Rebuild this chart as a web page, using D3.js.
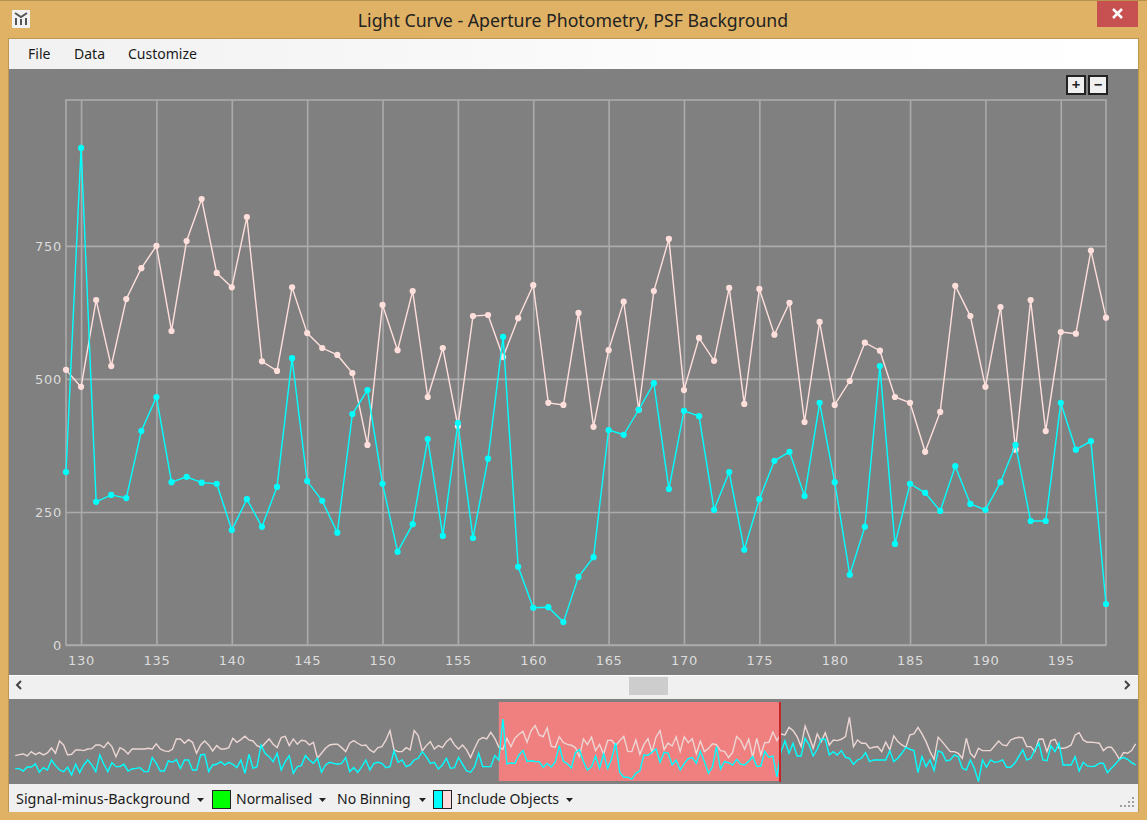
<!DOCTYPE html>
<html>
<head>
<meta charset="utf-8">
<script src="https://cdn.jsdelivr.net/npm/d3@7"></script>
<style>
  html, body { margin: 0; padding: 0; background: #dfb265; overflow: hidden; }
  text { font-family: "Noto Sans", "Open Sans", sans-serif; }
  .tick text { font-family: "DejaVu Sans", sans-serif; letter-spacing: 0.7px; }
</style>
</head>
<body>
<div id="chart"></div>
<script>
// Frames shown in the main plot
const firstFrame = 129;
const pinkMain = [517,485,648,524,650,708,750,590,759,838,699,672,804,533,515,672,586,558,545,511,376,639,554,665,466,558,411,618,620,541,614,676,455,451,624,410,554,645,442,665,763,479,577,534,671,453,669,583,643,419,607,451,496,568,553,466,455,363,438,675,618,485,635,367,648,402,588,585,741,615];
const cyanMain = [325,934,269,282,276,402,466,306,316,305,303,216,274,222,297,539,308,271,211,434,479,303,175,227,387,205,417,201,350,579,147,70,71,43,128,165,404,395,442,492,293,440,430,254,325,179,274,346,363,280,455,306,132,222,524,190,303,286,252,336,265,254,306,376,233,233,455,367,383,77];

// Overview frames before and after the selected window
const overviewStart = 9;
const pinkBefore = [391,406,416,386,451,406,436,401,431,505,426,609,550,401,411,476,476,466,490,495,550,550,510,589,525,376,510,476,416,490,490,490,490,500,490,565,490,461,451,485,639,639,
  575,629,589,426,550,609,550,461,540,490,490,510,649,589,629,679,624,609,540,510,575,639,560,510,659,679,540,639,560,619,609,550,589,352,426,500,550,560,560,510,451,
  575,614,575,540,550,476,441,510,525,624,763,476,451,451,510,476,763,689,461,540,599,490,540,510,599,649,550,490,550,476,362,500,624,659,639,738,649];
const cyanBefore = [198,198,163,223,223,268,144,213,178,327,243,178,154,218,104,263,139,253,327,253,154,401,263,154,287,228,228,263,163,193,203,213,154,154,362,277,163,163,312,292,332,203,
  327,327,178,178,401,411,154,253,263,302,253,292,263,213,327,129,411,203,228,550,426,376,302,426,178,302,391,129,228,243,391,327,277,352,144,253,292,277,263,277,362,
  154,213,144,228,327,178,277,292,277,213,228,461,292,327,228,253,327,352,451,376,277,292,193,253,352,203,213,367,263,163,144,228,426,228,228,228,391];
const pinkAfter = [713,699,812,763,674,525,832,674,500,713,599,733,550,624,614,634,674,961,525,624,575,575,500,515,525,451,590,476,684,599,550,515,699,713,812,713,599,451,337,664,599,525,451,451,426,
  352,649,426,362,500,466,466,466,535,609,550,540,624,649,664,659,525,525,451,634,639,451,614,634,500,500,515,550,699,733,624,590,590,585,575,466,515,515,436,337,436,426,466,565];
const cyanAfter = [451,609,426,575,386,386,649,550,386,486,634,634,401,451,401,466,367,352,263,327,352,436,302,327,327,327,327,466,302,352,426,515,486,466,139,377,228,327,169,461,436,312,327,401,377,
  203,178,327,203,5,327,218,327,292,302,327,218,218,278,377,476,327,352,476,575,327,317,535,451,575,253,253,253,377,164,292,238,228,238,278,278,139,203,268,337,367,337,287,253];

const xTicks = [130,135,140,145,150,155,160,165,170,175,180,185,190,195];
const yTicks = [0,250,500,750];
const menuItems = [["File", 28], ["Data", 74], ["Customize", 128]];

const width = 1147, height = 820;
const pink = "#ffdfdc", cyan = "#00ffff", gridColor = "#ababab";

const svg = d3.select("#chart").append("svg")
    .attr("width", width)
    .attr("height", height)
    .style("display", "block");

// Window frame
svg.append("rect").attr("width", width).attr("height", height).attr("fill", "#dfb265");
svg.append("rect").attr("width", width).attr("height", 1).attr("fill", "#b8924f");
svg.append("rect").attr("x", 8).attr("y", 38).attr("width", 1131).attr("height", 774).attr("fill", "#bd9650");

// Icon and title
const icon = svg.append("g").attr("transform", "translate(12,10)");
icon.append("rect").attr("width", 18).attr("height", 18).attr("rx", 1).attr("fill", "#f2f2f2");
icon.append("path").attr("d", "M3 3 L9 7 L15 3 M4 8 V15 M9 9 V15 M14 8 V15")
    .attr("stroke", "#555").attr("stroke-width", 2).attr("fill", "none");
svg.append("text")
    .attr("x", 573).attr("y", 27)
    .attr("text-anchor", "middle")
    .style("font-size", "17.7px")
    .attr("fill", "#222")
    .text("Light Curve - Aperture Photometry, PSF Background");

// Close button
svg.append("rect").attr("x", 1097).attr("y", 1).attr("width", 41).attr("height", 26).attr("fill", "#c75050");
svg.append("path").attr("d", "M1113 9 L1122 18 M1122 9 L1113 18")
    .attr("stroke", "#fff").attr("stroke-width", 2.5);

// Menu bar
const menuGrad = svg.append("defs").append("linearGradient").attr("id", "menuGrad");
menuGrad.append("stop").attr("offset", "0").attr("stop-color", "#f1f1f1");
menuGrad.append("stop").attr("offset", "0.6").attr("stop-color", "#fcfcfc");
menuGrad.append("stop").attr("offset", "1").attr("stop-color", "#ffffff");
svg.append("rect").attr("x", 9).attr("y", 39).attr("width", 1129).attr("height", 30).attr("fill", "url(#menuGrad)");
svg.selectAll(".menu").data(menuItems).enter().append("text")
    .attr("class", "menu")
    .attr("x", d => d[1]).attr("y", 59)
    .style("font-size", "14px")
    .attr("fill", "#1a1a1a")
    .text(d => d[0]);

// Panels
svg.append("rect").attr("x", 9).attr("y", 69).attr("width", 1129).attr("height", 606).attr("fill", "#808080");
svg.append("rect").attr("x", 9).attr("y", 675).attr("width", 1129).attr("height", 25).attr("fill", "#f0f0f0");
svg.append("rect").attr("x", 9).attr("y", 675).attr("width", 1129).attr("height", 1).attr("fill", "#ffffff");
svg.append("rect").attr("x", 9).attr("y", 699).attr("width", 1129).attr("height", 85).attr("fill", "#808080");
svg.append("rect").attr("x", 9).attr("y", 784).attr("width", 1129).attr("height", 28).attr("fill", "#f0f0f0");

// Zoom buttons
[["+", 1066], ["\u2212", 1088]].forEach(b => {
  svg.append("rect").attr("x", b[1] + 1).attr("y", 76).attr("width", 18).attr("height", 18)
      .attr("fill", "#f0f0f0").attr("stroke", "#222").attr("stroke-width", 2);
  svg.append("text").attr("x", b[1] + 10).attr("y", 90)
      .attr("text-anchor", "middle")
      .style("font-size", "15px").style("font-weight", "bold")
      .attr("fill", "#222").text(b[0]);
});

// Main plot scales
const frames = d3.range(firstFrame, firstFrame + pinkMain.length);
const x = d3.scaleLinear().domain([129, 198]).range([66, 1106]);
const y = d3.scaleLinear().domain([0, 1024]).range([645, 100]);

// Axes with full length grid lines
const xAxis = svg.append("g")
    .attr("transform", "translate(0,645)")
    .call(d3.axisBottom(x).tickValues(xTicks).tickSize(-545).tickPadding(11).tickSizeOuter(0));
const yAxis = svg.append("g")
    .attr("transform", "translate(66,0)")
    .call(d3.axisLeft(y).tickValues(yTicks).tickSize(-1040).tickPadding(4).tickFormat(d3.format("d")));
[xAxis, yAxis].forEach(a => {
  a.select(".domain").remove();
  a.selectAll("line").attr("stroke", gridColor).attr("stroke-width", 1.6);
  a.selectAll("text").attr("fill", "#dcdcdc").style("font-size", "13px");
});
svg.append("rect").attr("x", 66).attr("y", 100).attr("width", 1040).attr("height", 545)
    .attr("fill", "none").attr("stroke", gridColor).attr("stroke-width", 1.6);

// Main series
function drawSeries(values, color) {
  const line = d3.line().x((d, i) => x(frames[i])).y(d => y(d));
  svg.append("path").datum(values)
      .attr("d", line).attr("fill", "none").attr("stroke", color).attr("stroke-width", 1.4);
  svg.append("g").selectAll("circle").data(values).enter().append("circle")
      .attr("cx", (d, i) => x(frames[i]))
      .attr("cy", d => y(d))
      .attr("r", 3.1)
      .attr("fill", color);
}
drawSeries(pinkMain, pink);
drawSeries(cyanMain, cyan);

// Scrollbar
svg.append("path").attr("d", "M21 681 L17 685 L21 689").attr("fill", "none").attr("stroke", "#444").attr("stroke-width", 2);
svg.append("path").attr("d", "M1125 681 L1129 685 L1125 689").attr("fill", "none").attr("stroke", "#444").attr("stroke-width", 2);
svg.append("rect").attr("x", 629).attr("y", 677).attr("width", 39).attr("height", 18).attr("fill", "#cdcdcd");

// Overview
const ovX = d3.scaleLinear().domain([9, 287]).range([15.2, 1135.6]);
const ovY = d3.scaleLinear().domain([0, 1024]).range([782, 713]);
svg.append("rect").attr("x", ovX(129)).attr("y", 702).attr("width", ovX(198.5) - ovX(129)).attr("height", 79).attr("fill", "#f08080");
const ovLine = d3.line().x((d, i) => ovX(overviewStart + i)).y(d => ovY(d));
svg.append("path").datum(pinkBefore.concat(pinkMain, pinkAfter))
    .attr("d", ovLine).attr("fill", "none").attr("stroke", "#ecd6d3").attr("stroke-width", 1.4);
svg.append("path").datum(cyanBefore.concat(cyanMain, cyanAfter))
    .attr("d", ovLine).attr("fill", "none").attr("stroke", cyan).attr("stroke-width", 1.4);
svg.append("rect").attr("x", 779).attr("y", 702).attr("width", 2).attr("height", 80).attr("fill", "#c82626");

// Status bar
function dropdown(label, lx, arrowX, size) {
  svg.append("text").attr("x", lx).attr("y", 804)
      .style("font-size", size + "px").attr("fill", "#1a1a1a").text(label);
  svg.append("path").attr("d", `M${arrowX} 798 h7 l-3.5 4 z`).attr("fill", "#222");
}
dropdown("Signal-minus-Background", 16, 197, 14.4);
dropdown("Normalised", 236, 319, 14);
dropdown("No Binning", 337, 419, 14);
dropdown("Include Objects", 457, 566, 14);
svg.append("rect").attr("x", 212.5).attr("y", 790.5).attr("width", 18).attr("height", 18)
    .attr("fill", "#00ff00").attr("stroke", "#222");
svg.append("rect").attr("x", 433.5).attr("y", 790.5).attr("width", 9).attr("height", 18)
    .attr("fill", cyan).attr("stroke", "#222");
svg.append("rect").attr("x", 442.5).attr("y", 790.5).attr("width", 9).attr("height", 18)
    .attr("fill", "#ffdcdc").attr("stroke", "#222");

// Resize grip
[[1132,797],[1132,801],[1128,801],[1132,805],[1128,805],[1124,805],[1120,805]].forEach(p => {
  svg.append("rect").attr("x", p[0]).attr("y", p[1]).attr("width", 2).attr("height", 2).attr("fill", "#a0a0a0");
});
</script>
</body>
</html>
